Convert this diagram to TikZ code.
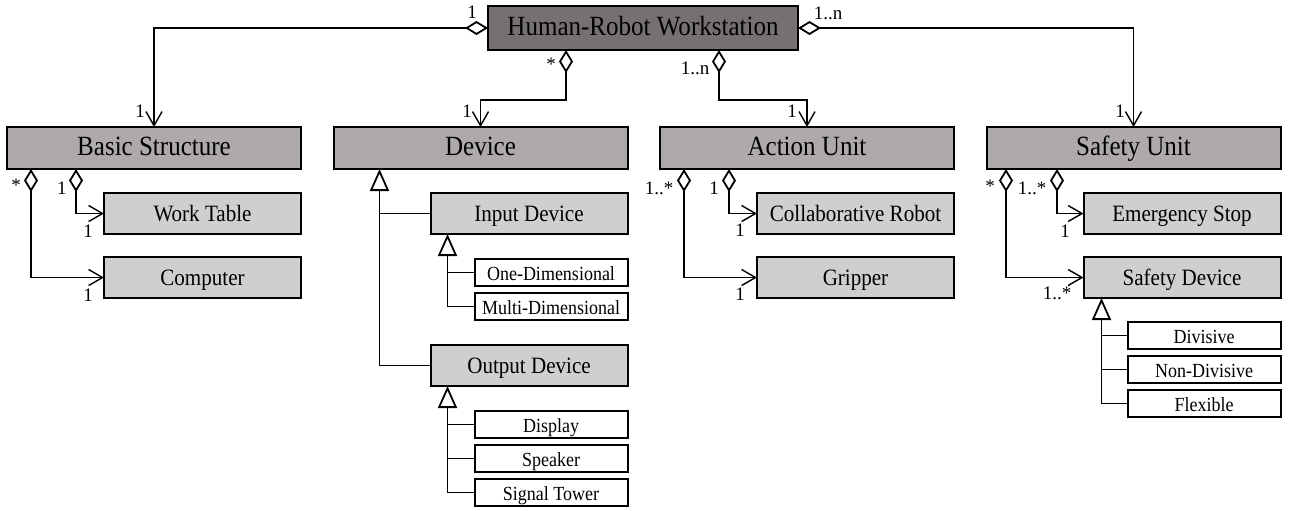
\documentclass[tikz,border=0pt]{standalone}
\usepackage{fontspec}
\setmainfont{Liberation Serif}
\newfontfamily\boxfont{Liberation Serif}[FakeStretch=0.9]
\usetikzlibrary{positioning,arrows.meta}

\definecolor{topgray}{HTML}{767171}
\definecolor{maingray}{HTML}{AEAAAA}
\definecolor{subgray}{HTML}{D0CECE}

\tikzset{
	box/.style={draw, line width=1pt, inner sep=0pt, outer sep=0pt, align=center, text height=.76em, text depth=0pt},
	topbox/.style={box, fill=topgray, minimum width=155pt, minimum height=22pt, font=\boxfont\fontsize{13.9}{15}\selectfont},
	mainbox/.style={box, fill=maingray, minimum width=147pt, minimum height=21pt, font=\boxfont\fontsize{13.9}{15}\selectfont},
	subbox/.style={box, fill=subgray, minimum width=98.5pt, minimum height=20.5pt, font=\boxfont\fontsize{11.7}{13}\selectfont},
	leaf/.style={box, fill=white, minimum width=76.5pt, minimum height=13.5pt, font=\boxfont\fontsize{10}{11}\selectfont},
	mult/.style={inner sep=0pt, font=\fontsize{9.5}{10}\selectfont},
	agg/.style={line width=0.7pt, arrows={Diamond[open, length=11.5pt, width=7pt, line width=0.9pt]-Straight Barb[length=7pt, width=8pt]}},
	gen/.style={line width=0.7pt, arrows={Triangle[open, length=11pt, width=9.5pt, line width=0.9pt]-}},
	branch/.style={line width=0.7pt}
}

\begin{document}
\begin{tikzpicture}[x=0.5pt, y=-0.5pt]
		\useasboundingbox (0,0) rectangle (1290,510);
		% top and first level
		\node[topbox] (hrw) at (643,28) {Human-Robot Workstation};
		\node[mainbox] (bs) at (154,148) {Basic Structure};
		\node[mainbox, right = 16.25pt of bs] (dev) {Device};
		\node[mainbox, right = 16.25pt of dev] (act) {Action Unit};
		\node[mainbox, right = 16.25pt of act] (saf) {Safety Unit};
		% basic structure
		\node[subbox, anchor=north east] (wt) at ([yshift=-12pt]bs.south east) {Work Table};
		\node[subbox, below = 11.5pt of wt] (comp) {Computer};
		% device
		\node[subbox, anchor=north east] (inp) at ([yshift=-12pt]dev.south east) {Input Device};
		\node[leaf, anchor=north east] (onedim) at ([yshift=-12.5pt]inp.south east) {One-Dimensional};
		\node[leaf, below = 3.5pt of onedim] (multidim) {Multi-Dimensional};
		\node[subbox, below = 55.5pt of inp] (outp) {Output Device};
		\node[leaf, anchor=north east] (disp) at ([yshift=-12.5pt]outp.south east) {Display};
		\node[leaf, below = 3.5pt of disp] (spk) {Speaker};
		\node[leaf, below = 3.5pt of spk] (sigt) {Signal Tower};
		% action unit
		\node[subbox, anchor=north east] (cobot) at ([yshift=-12pt]act.south east) {Collaborative Robot};
		\node[subbox, below = 11.5pt of cobot] (grip) {Gripper};
		% safety unit
		\node[subbox, anchor=north east] (estop) at ([yshift=-12pt]saf.south east) {Emergency Stop};
		\node[subbox, below = 11.5pt of estop] (sdev) {Safety Device};
		\node[leaf, anchor=north east] (divis) at ([yshift=-12pt]sdev.south east) {Divisive};
		\node[leaf, below = 3.5pt of divis] (nondiv) {Non-Divisive};
		\node[leaf, below = 3.5pt of nondiv] (flex) {Flexible};

		% aggregations
		\draw[agg] (hrw.west) -| (bs.north);
		\draw[agg] (hrw.east) -| (saf.north);
		\draw[agg] ([xshift=-38.5pt]hrw.south) -- ++(0,50) -| (dev.north);
		\draw[agg] ([xshift=38pt]hrw.south) -- ++(0,50) -| (act.north);
		\draw[agg] ([xshift=12pt]bs.south west) |- (comp.west);
		\draw[agg] ([xshift=34.5pt]bs.south west) |- (wt.west);
		\draw[agg] ([xshift=12pt]act.south west) |- (grip.west);
		\draw[agg] ([xshift=34.5pt]act.south west) |- (cobot.west);
		\draw[agg] ([xshift=9.75pt]saf.south west) |- (sdev.west);
		\draw[agg] ([xshift=35.25pt]saf.south west) |- (estop.west);

		% generalizations
		\coordinate (devtrunk) at ([xshift=23pt]dev.south west);
		\coordinate (inptrunk) at ([xshift=8.5pt]inp.south west);
		\coordinate (outtrunk) at ([xshift=8.5pt]outp.south west);
		\coordinate (sdevtrunk) at ([xshift=9pt]sdev.south west);
		\draw[branch] (inp.west) -- (inp.west -| devtrunk);
		\draw[gen] (devtrunk) |- (outp.west);
		\draw[branch] (onedim.west) -- (onedim.west -| inptrunk);
		\draw[gen] (inptrunk) |- (multidim.west);
		\foreach \n in {disp,spk}
			\draw[branch] (\n.west) -- (\n.west -| outtrunk);
		\draw[gen] (outtrunk) |- (sigt.west);
		\foreach \n in {divis,nondiv}
			\draw[branch] (\n.west) -- (\n.west -| sdevtrunk);
		\draw[gen] (sdevtrunk) |- (flex.west);

		% multiplicities
		\foreach \x/\y/\t [count=\i] in {472/12/1, 140/111/1, 551/64/*, 467/111/1, 695/68/1..n, 792/111/1, 828/13/1..n, 1120/111/1,
			16/185/*, 62/188/1, 88/231/1, 88/295/1,
			659/188/1..*, 714/188/1, 740/230/1, 740/294/1,
			990/186/*, 1032/188/1..*, 1065/231/1, 1057/293/1..*}
			\node[mult] (m\i) at (\x,\y) {\t};
	\end{tikzpicture}
\end{document}
